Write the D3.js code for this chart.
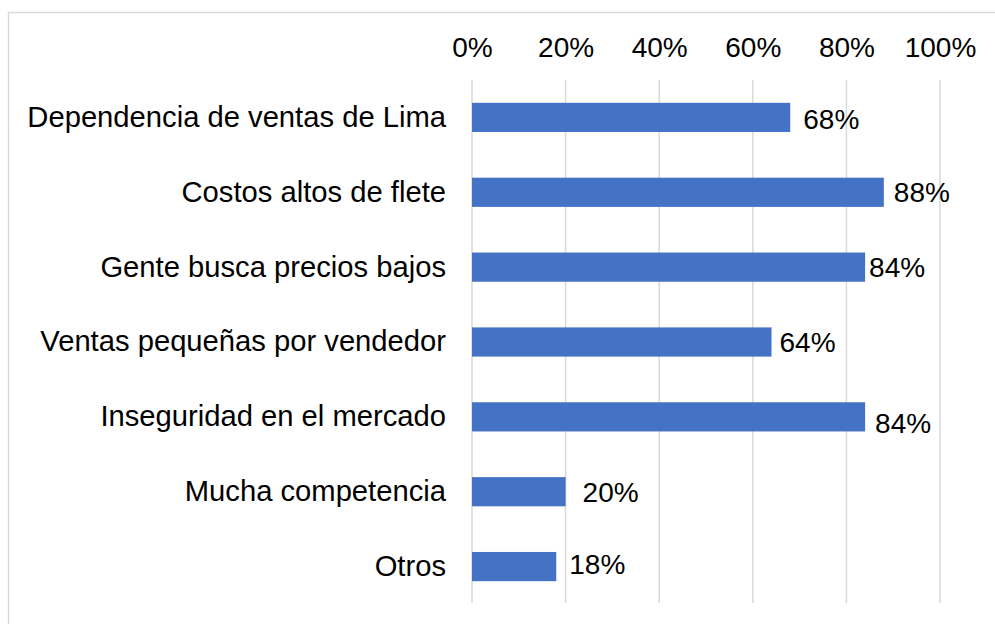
<!DOCTYPE html>
<html>
<head>
<meta charset="utf-8">
<script src="https://cdn.jsdelivr.net/npm/d3@7"></script>
<style>
  body { margin: 0; background: #fff; }
  svg { display: block; font-family: Arial, "Liberation Sans", sans-serif; }
  .axis .domain, .axis .tick line { display: none; }
</style>
</head>
<body>
<div id="chart"></div>
<script>
// chart data
const categories = [
  'Dependencia de ventas de Lima',
  'Costos altos de flete',
  'Gente busca precios bajos',
  'Ventas pequeñas por vendedor',
  'Inseguridad en el mercado',
  'Mucha competencia',
  'Otros'
]
const values = [0.68, 0.88, 0.84, 0.64, 0.84, 0.20, 0.18]
const tickValues = [0, 0.2, 0.4, 0.6, 0.8, 1.0]

// hand-moved data label nudges (px), like in the original
const labelDx = [13, 10, 4, 8, 10, 17, 13]
const labelDy = [2, 0, 0, 0, 6, 0, -2]

const w = 995
const h = 624

const svg = d3.select('#chart')
  .append('svg')
  .attr('width', w)
  .attr('height', h)

// outer chart border
svg.append('rect')
  .attr('x', 8.5)
  .attr('y', 12.5)
  .attr('width', 1000)
  .attr('height', 700)
  .attr('fill', 'none')
  .attr('stroke', '#d9d9d9')
  .attr('stroke-width', 1.5)

const xScale = d3.scaleLinear()
  .domain([0, 1])
  .range([472, 940])

const yScale = d3.scaleBand()
  .domain(categories)
  .range([80, 604])
  .paddingInner(0.61)
  .paddingOuter(0.305)

// gridlines
svg.append('g')
  .selectAll('line')
  .data(tickValues)
  .enter()
  .append('line')
  .attr('x1', d => xScale(d))
  .attr('x2', d => xScale(d))
  .attr('y1', 80)
  .attr('y2', 603)
  .attr('stroke', '#d9d9d9')
  .attr('stroke-width', 1.5)

// top axis with % labels
const xAxis = d3.axisTop(xScale)
  .tickValues(tickValues)
  .tickFormat(d3.format('.0%'))
  .tickSize(0)
  .tickPadding(0)

svg.append('g')
  .attr('class', 'axis')
  .attr('transform', 'translate(0,57)')
  .call(xAxis)
  .call(g => g.selectAll('text')
    .attr('font-size', 28)
    .attr('font-family', 'Arial, "Liberation Sans", sans-serif')
    .attr('fill', '#000')
    .attr('dy', 0))

// category labels
const yAxis = d3.axisLeft(yScale)
  .tickSize(0)
  .tickPadding(0)

svg.append('g')
  .attr('class', 'axis')
  .attr('transform', 'translate(446,0)')
  .call(yAxis)
  .call(g => g.selectAll('text')
    .attr('font-size', 29.2)
    .attr('font-family', 'Arial, "Liberation Sans", sans-serif')
    .attr('fill', '#000'))

// bars
svg.selectAll('rect.bar')
  .data(values)
  .enter()
  .append('rect')
  .attr('class', 'bar')
  .attr('x', xScale(0))
  .attr('y', (d, i) => yScale(categories[i]))
  .attr('width', d => xScale(d) - xScale(0))
  .attr('height', yScale.bandwidth())
  .attr('fill', '#4472c4')

// data labels
svg.selectAll('text.label')
  .data(values)
  .enter()
  .append('text')
  .attr('class', 'label')
  .attr('x', (d, i) => xScale(d) + labelDx[i])
  .attr('y', (d, i) => yScale(categories[i]) + yScale.bandwidth() / 2 + labelDy[i])
  .attr('dy', '0.35em')
  .attr('font-size', 28)
  .attr('fill', '#000')
  .text(d => d3.format('.0%')(d))
</script>
</body>
</html>
